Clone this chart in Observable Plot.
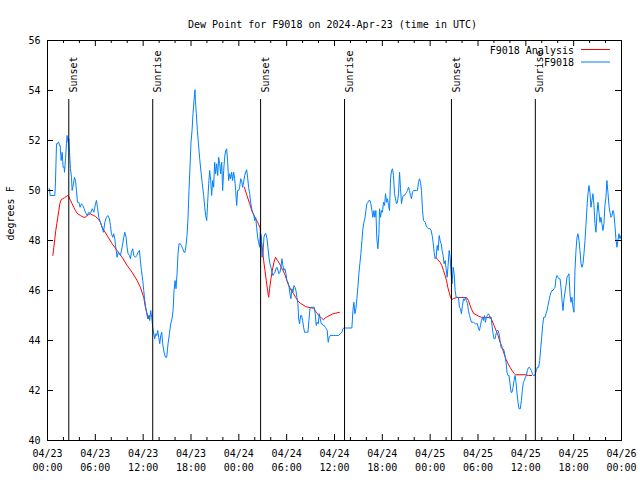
<!DOCTYPE html>
<html><head><meta charset="utf-8">
<script src="https://cdn.jsdelivr.net/npm/d3@7"></script>
<script src="https://cdn.jsdelivr.net/npm/@observablehq/plot@0.6"></script>
<style>html,body{margin:0;padding:0;background:#fff}</style>
</head><body><div id="chart"></div>
<script>
const titleText = "Dew Point for F9018 on 2024-Apr-23 (time in UTC)";
const yLabelText = "degrees F";
const startUTC = Date.UTC(2024, 3, 23, 0, 0);

// F9018 observations: hours since 04/23 00:00 UTC, dew point (F)
const obsHours = [0.17,0.25,0.33,0.92,1.00,1.13,1.25,1.34,1.42,1.50,1.59,1.71,1.84,1.96,2.09,2.13,2.26,2.38,2.46,2.59,2.67,2.76,2.88,3.01,3.09,3.26,3.38,3.51,3.63,3.76,3.93,4.09,4.26,4.43,4.60,4.76,4.97,5.18,5.39,5.60,5.81,6.02,6.14,6.27,6.43,6.64,6.85,7.02,7.19,7.39,7.56,7.77,7.90,8.02,8.19,8.31,8.44,8.61,8.73,8.86,9.02,9.15,9.36,9.57,9.69,9.86,9.98,10.11,10.28,10.40,10.53,10.69,10.82,11.03,11.19,11.36,11.53,11.65,11.78,11.95,12.07,12.20,12.32,12.45,12.57,12.70,12.82,12.95,13.07,13.20,13.33,13.45,13.58,13.70,13.83,13.95,14.08,14.20,14.33,14.45,14.62,14.79,14.95,15.12,15.29,15.46,15.62,15.75,15.87,16.00,16.12,16.25,16.37,16.50,16.67,16.79,16.96,17.13,17.25,17.38,17.50,17.63,17.75,17.88,18.00,18.13,18.25,18.38,18.50,
18.55,18.67,18.80,18.92,19.09,19.26,19.42,19.59,19.72,19.84,19.97,20.09,20.22,20.34,20.47,20.59,20.72,20.84,20.97,21.09,21.22,21.35,21.47,21.60,21.72,21.85,21.97,22.10,22.22,22.35,22.47,22.60,22.72,22.85,22.97,23.10,23.22,23.35,23.48,23.60,23.73,23.85,23.98,24.10,24.23,24.35,24.48,24.60,24.73,24.85,24.98,25.10,25.23,25.36,25.48,25.61,25.73,25.86,25.98,26.11,26.23,26.36,26.48,26.61,26.69,26.82,26.90,27.03,27.15,27.28,27.40,27.53,27.65,27.78,27.90,28.03,28.15,28.28,28.40,28.53,28.66,28.78,28.91,29.03,29.16,29.28,29.41,29.53,29.66,29.78,29.91,30.03,30.16,30.28,30.41,30.53,30.66,30.79,30.91,31.04,31.16,31.29,31.41,31.50,31.62,31.75,31.87,32.00,32.12,32.25,32.46,32.67,32.79,32.92,33.04,33.29,33.46,33.58,33.71,33.83,33.96,34.09,34.21,34.34,34.46,34.59,34.71,34.84,34.96,35.09,35.21,35.34,35.46,35.67,35.88,36.09,36.30,36.51,36.72,36.93,37.05,37.18,
37.56,38.18,38.31,38.43,38.56,38.68,38.81,38.93,39.06,39.18,39.31,39.44,39.56,39.69,39.81,39.94,40.06,40.19,40.31,40.44,40.56,40.69,40.81,40.94,41.06,41.19,41.31,41.44,41.57,41.65,41.77,41.90,42.02,42.15,42.28,42.40,42.53,42.65,42.78,42.90,43.03,43.15,43.28,43.40,43.53,43.65,43.78,43.90,44.03,44.16,44.28,44.41,44.53,44.66,44.78,44.91,45.03,45.16,45.28,45.41,45.53,45.66,45.78,45.91,46.08,46.29,46.41,46.54,46.66,46.79,46.91,47.04,47.16,47.37,47.50,47.62,47.79,48.00,48.12,48.25,48.37,48.50,48.62,48.75,48.88,49.00,49.13,49.25,49.38,49.50,49.63,49.75,49.88,50.00,50.13,50.25,50.38,50.50,50.63,50.75,50.88,51.01,51.13,51.26,51.38,51.55,51.67,51.80,51.92,52.05,52.18,52.30,52.43,52.55,52.68,52.80,52.93,53.05,53.18,53.43,53.68,53.93,54.06,54.18,54.31,54.43,54.56,54.68,54.81,54.93,55.06,55.18,55.31,55.43,
55.51,55.64,55.76,55.89,56.01,56.14,56.27,56.39,56.52,56.64,56.77,56.89,57.02,57.14,57.27,57.39,57.52,57.64,57.77,57.89,58.02,58.14,58.27,58.40,58.52,58.65,58.77,58.90,59.02,59.15,59.31,59.44,59.56,59.69,59.82,59.94,60.07,60.19,60.32,60.44,60.57,60.69,60.82,60.94,61.07,61.19,61.32,61.44,61.61,61.74,61.86,61.99,62.11,62.24,62.41,62.53,62.66,62.78,62.91,63.03,63.16,63.28,63.41,63.53,63.66,63.78,63.91,64.03,64.16,64.29,64.41,64.54,64.66,64.79,64.91,65.04,65.16,65.29,65.41,65.54,65.66,65.79,65.91,66.04,66.16,66.29,66.42,66.54,66.67,66.79,66.92,67.04,67.17,67.29,67.42,67.54,67.67,67.79,67.92,68.04,68.17,68.29,68.42,68.55,68.67,68.80,68.92,69.05,69.17,69.30,69.42,69.55,69.67,69.80,69.92,70.05,70.17,70.30,70.43,70.55,70.68,70.80,70.93,71.05,71.18,71.30,71.43,71.55,71.68,71.80,71.93];
const obsValues = [50.07,50.07,49.8,49.8,50.33,51.87,51.87,51.93,51.93,51.8,51.8,51.2,51.53,50.93,50.93,50.73,51.27,51.87,52.2,51.93,52.07,51.53,50.87,50.53,50.0,50.27,50.53,50.4,50.0,49.53,49.53,49.33,49.47,49.4,49.27,49.13,49.0,49.13,49.07,49.27,49.13,49.47,49.6,49.33,48.93,48.73,48.53,48.33,48.73,48.93,49.0,48.87,48.6,48.27,48.13,48.27,48.07,47.6,47.33,47.53,47.47,47.4,47.73,48.13,48.33,48.13,47.73,47.47,47.4,47.27,47.53,47.67,47.4,47.33,47.4,47.53,47.6,47.2,46.8,46.4,46.0,45.6,45.33,45.07,44.87,45.0,44.8,45.2,44.93,44.53,44.27,44.07,44.27,44.2,44.4,44.13,43.87,44.2,44.33,43.87,43.53,43.33,43.33,43.87,44.27,44.67,44.87,45.2,46.0,46.4,46.07,46.67,47.47,47.87,47.87,47.8,47.67,47.53,47.53,47.8,48.2,48.93,50.0,51.0,51.93,52.4,53.07,53.6,54.03,
53.6,53.07,52.4,51.93,51.27,50.73,50.27,49.8,49.33,49.0,48.8,49.53,50.27,50.8,50.4,49.8,50.4,50.13,51.13,50.67,51.07,50.6,51.33,51.07,50.67,51.13,50.0,50.8,51.33,51.6,51.67,51.13,50.4,50.67,50.47,50.73,50.4,50.73,50.47,50.0,49.4,50.0,50.0,50.13,50.47,50.4,50.13,50.33,50.6,50.73,50.83,50.53,50.13,49.87,49.53,49.27,49.13,49.07,48.8,48.93,48.53,48.13,47.93,47.73,48.33,48.13,47.33,47.47,48.13,48.27,48.27,48.07,47.73,47.33,47.07,46.93,46.73,46.6,46.67,46.73,46.87,46.93,46.8,46.67,46.73,46.93,47.27,47.0,46.8,46.87,46.67,46.4,46.33,46.2,45.87,45.67,46.07,45.93,46.2,46.13,46.0,45.73,45.47,44.87,44.67,45.0,45.0,44.8,44.53,44.33,44.33,44.33,44.8,45.27,45.33,45.33,45.33,45.07,44.6,44.73,44.67,45.07,44.87,44.67,44.67,44.6,44.6,44.53,44.47,44.4,43.93,44.13,44.2,44.2,44.2,44.2,44.2,44.2,44.27,44.33,44.47,44.5,
44.5,44.5,45.2,45.53,45.07,45.27,45.67,46.13,46.67,47.07,47.47,48.0,48.47,48.73,48.87,49.2,49.47,49.53,49.6,49.6,49.47,49.2,48.93,49.2,48.93,49.2,48.07,47.67,48.27,49.27,48.93,49.2,49.13,49.53,49.4,49.87,49.53,49.67,49.4,49.2,50.47,50.8,50.87,50.6,49.87,49.67,49.47,49.53,49.87,50.73,50.07,49.47,49.73,49.8,49.8,49.87,49.93,50.0,50.13,50.0,49.8,49.67,49.93,50.0,50.0,50.0,50.0,50.33,50.47,50.33,50.0,49.2,48.8,48.73,48.6,48.53,48.47,48.47,48.4,48.2,47.93,47.53,47.27,47.33,47.8,47.6,48.2,48.0,47.87,47.6,47.4,47.07,47.2,46.87,46.53,47.0,47.6,47.33,46.67,46.27,46.93,46.67,46.0,45.73,45.73,45.73,45.33,45.27,45.07,45.4,45.67,45.6,45.73,45.6,45.47,45.2,45.0,44.87,44.73,44.73,44.67,44.67,44.47,44.4,44.6,44.8,44.93,44.8,45.0,44.73,44.93,45.0,45.07,45.0,
44.87,44.93,44.6,44.27,44.07,44.07,44.27,44.4,44.4,44.27,44.0,43.73,43.67,43.67,43.6,43.4,43.13,42.73,42.6,42.6,42.27,41.93,41.93,42.13,42.4,42.6,42.33,41.87,41.53,41.27,41.27,41.6,42.0,42.33,42.4,42.53,42.6,42.8,42.91,42.93,42.87,42.8,42.67,42.6,42.6,42.67,42.8,42.93,42.93,43.2,43.67,44.13,44.6,44.93,44.93,45.07,45.2,45.4,45.6,45.8,45.93,46.0,46.0,46.07,46.13,46.47,46.6,46.53,46.47,46.47,46.13,45.6,45.2,45.67,45.93,46.2,46.53,46.6,46.67,45.87,45.53,45.73,45.33,45.13,46.8,47.6,48.13,48.27,48.0,47.6,47.07,46.93,47.07,47.47,48.0,48.6,49.33,49.87,50.2,49.93,49.33,49.6,49.87,49.4,48.67,48.33,49.07,49.53,49.13,48.73,48.93,48.67,48.4,48.67,49.4,49.73,50.4,49.93,49.4,49.13,48.93,49.0,49.2,49.07,48.6,48.07,47.73,48.0,48.27,48.07,48.2];

// F9018 Analysis (NaN marks a gap between segments)
const anaHours = [0.67,0.79,0.92,1.04,1.17,1.29,1.42,1.55,1.71,1.92,2.13,2.34,2.55,2.67,2.88,3.09,3.30,3.51,3.72,3.93,4.13,4.34,4.55,4.76,4.97,5.18,5.39,5.60,5.81,6.02,6.22,6.43,6.64,6.85,7.48,8.11,8.73,9.36,9.99,10.61,11.24,11.65,12.07,12.28,12.49,12.69,12.82,
NaN,
24.69,25.02,25.36,25.69,26.02,26.36,26.65,26.78,26.94,27.11,27.28,27.44,27.61,27.74,27.86,28.03,28.20,28.40,28.61,28.86,29.11,29.32,29.53,29.74,29.95,30.16,30.37,30.58,30.87,31.12,31.37,31.70,32.04,32.37,32.71,33.04,33.38,33.71,34.04,34.38,34.63,34.84,35.13,35.46,35.80,36.13,36.63,
NaN,
48.71,48.96,49.25,49.46,49.67,49.88,50.05,50.21,50.38,50.55,50.71,50.92,51.34,51.76,52.18,52.59,52.80,53.01,53.22,53.43,53.76,54.10,54.43,54.77,55.10,55.43,55.51,55.76,56.01,56.27,56.52,56.77,57.02,57.27,57.52,57.77,58.02,58.27,58.52,58.69,59.27,59.90,60.32,60.73];
const anaValues = [47.4,47.73,48.07,48.4,48.67,48.93,49.2,49.47,49.63,49.67,49.71,49.76,49.8,49.76,49.6,49.47,49.33,49.2,49.09,49.04,49.0,48.96,48.93,48.93,49.0,49.04,49.07,49.03,49.0,48.96,48.91,48.83,48.73,48.53,48.2,47.87,47.6,47.33,47.0,46.73,46.4,46.13,45.73,45.33,45.07,44.87,45.0,
NaN,
50.13,49.8,49.47,49.13,48.93,48.73,48.53,48.13,47.73,47.2,46.8,46.4,46.0,45.73,46.07,46.47,46.8,47.13,47.33,47.2,47.07,46.93,46.8,46.67,46.47,46.27,46.13,46.0,45.87,45.73,45.6,45.49,45.43,45.36,45.33,45.31,45.29,45.13,45.0,44.89,44.83,44.91,44.96,45.01,45.07,45.09,45.13,
NaN,
47.33,47.23,47.13,47.0,46.8,46.6,46.4,46.13,45.93,45.73,45.63,45.68,45.72,45.72,45.72,45.71,45.6,45.4,45.23,45.09,45.03,44.97,44.93,44.92,44.91,44.93,44.96,44.8,44.6,44.4,44.2,43.93,43.73,43.47,43.24,43.07,42.93,42.8,42.69,42.63,42.63,42.63,42.6,42.6];

const sunHours = [2.67, 13.20, 26.73, 37.26, 50.67, 61.19];
const sunLabels = ["Sunset", "Sunrise", "Sunset", "Sunrise", "Sunset", "Sunrise"];
const yTicks = [40, 42, 44, 46, 48, 50, 52, 54, 56];
const xMajorHours = [0, 6, 12, 18, 24, 30, 36, 42, 48, 54, 60, 66, 72];
const xMinorHours = [2, 4, 8, 10, 14, 16, 20, 22, 26, 28, 32, 34, 38, 40, 44, 46, 50, 52, 56, 58, 62, 64, 68, 70];
const seriesNames = ["F9018 Analysis", "F9018"];
const seriesColors = ["#ff0000", "#0080ff"];

const toDate = h => new Date(startUTC + h * 3600000);
const obs = obsHours.map((h, i) => ({t: toDate(h), v: obsValues[i]}));
const ana = anaHours.map((h, i) => ({t: isNaN(h) ? null : toDate(h), v: anaValues[i]}));
const sun = sunHours.map((h, i) => ({t: toDate(h), label: sunLabels[i]}));
const fmtDay = d3.utcFormat("%m/%d"), fmtTime = d3.utcFormat("%H:%M");

function legend(index, scales, values, dims) {
  const g = d3.create("svg:g")
    .attr("font-family", "DejaVu Sans Mono").attr("font-size", 10);
  const xr = dims.width - dims.marginRight;
  seriesNames.forEach((name, i) => {
    const y = dims.marginTop + 10 + i * 12.5;
    g.append("text").attr("x", xr - 47).attr("y", y)
      .attr("text-anchor", "end").attr("dy", "0.35em").attr("fill", "black").text(name);
    g.append("line").attr("x1", xr - 40).attr("x2", xr - 11)
      .attr("y1", y - 0.5).attr("y2", y - 0.5)
      .attr("stroke", seriesColors[i]).attr("stroke-width", 1);
  });
  return g.node();
}

const chart = Plot.plot({
  width: 640, height: 480,
  marginLeft: 47, marginRight: 19, marginTop: 40, marginBottom: 40,
  style: {fontFamily: "DejaVu Sans Mono", fontSize: "10px", background: "white", color: "black"},
  x: {type: "utc", domain: [toDate(0), toDate(72)], axis: null},
  y: {domain: [40, 56], axis: null},
  marks: [
    Plot.line(ana, {x: "t", y: "v", stroke: seriesColors[0], strokeWidth: 1}),
    Plot.line(obs, {x: "t", y: "v", stroke: seriesColors[1], strokeWidth: 1}),
    Plot.ruleX(sun, {x: "t", insetTop: 59, stroke: "black", strokeWidth: 1}),
    Plot.text(sun, {x: "t", text: "label", frameAnchor: "top", dy: 52, dx: 1, rotate: -90, textAnchor: "start", fill: "black"}),
    // ticks (inward, mirrored)
    Plot.ruleX(xMajorHours.map(toDate), {x: d => d, insetTop: 394, stroke: "black"}),
    Plot.ruleX(xMajorHours.map(toDate), {x: d => d, insetBottom: 394, stroke: "black"}),
    Plot.ruleX(xMinorHours.map(toDate), {x: d => d, insetTop: 397, stroke: "black"}),
    Plot.ruleX(xMinorHours.map(toDate), {x: d => d, insetBottom: 397, stroke: "black"}),
    Plot.ruleY(yTicks, {y: d => d, insetRight: 568, stroke: "black"}),
    Plot.ruleY(yTicks, {y: d => d, insetLeft: 568, stroke: "black"}),
    Plot.frame({stroke: "black"}),
    Plot.text(xMajorHours.map(toDate), {x: d => d, text: d => fmtDay(d) + "\n" + fmtTime(d), frameAnchor: "bottom", lineAnchor: "top", dy: 7, lineHeight: 1.4, fill: "black"}),
    Plot.text(yTicks, {y: d => d, text: d => String(d), frameAnchor: "left", dx: -7, textAnchor: "end", fill: "black"}),
    Plot.text([yLabelText], {text: d => d, frameAnchor: "left", dx: -37, rotate: -90, fill: "black"}),
    Plot.text([titleText], {text: d => d, frameAnchor: "top", dy: -20, dx: -2, fill: "black"}),
    legend
  ]
});
document.getElementById("chart").appendChild(chart);
</script>
</body></html>
